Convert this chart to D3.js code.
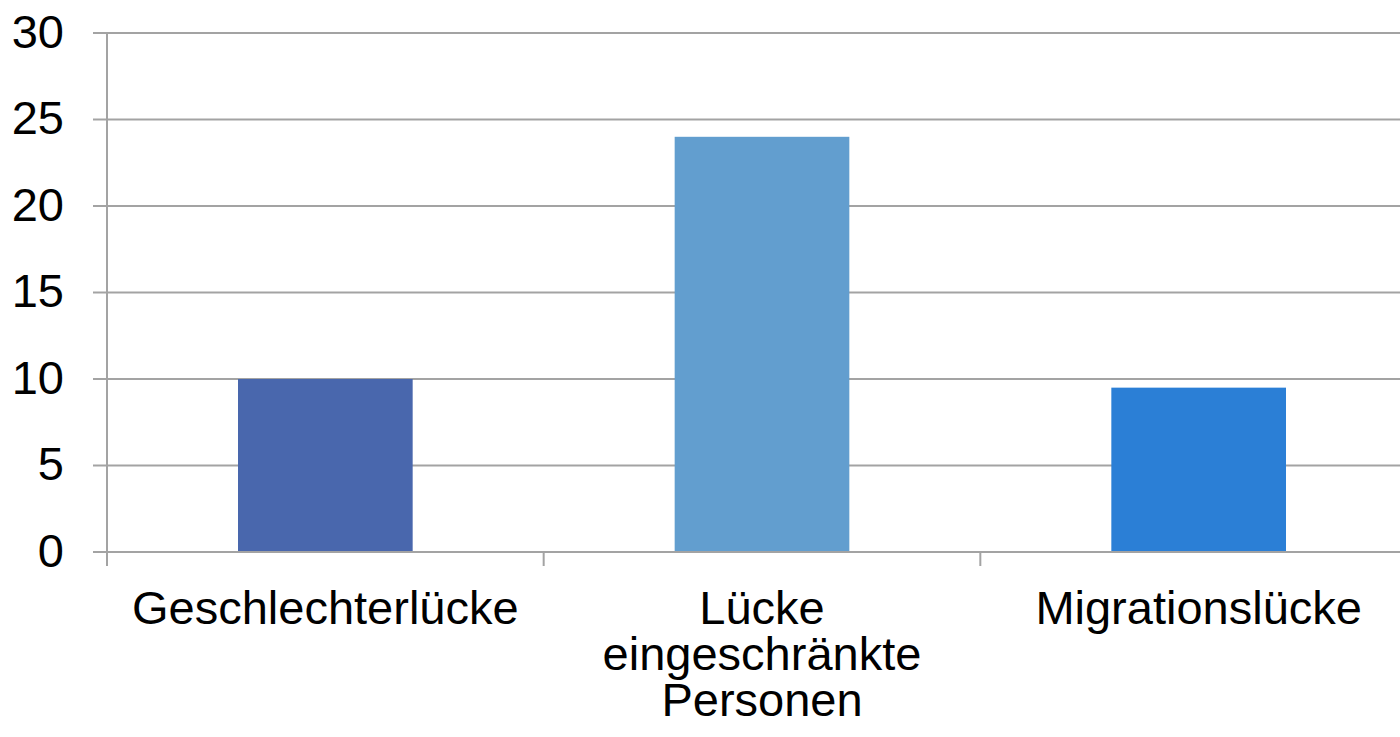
<!DOCTYPE html>
<html>
<head>
<meta charset="utf-8">
<script src="https://cdn.jsdelivr.net/npm/d3@7"></script>
<style>
  html, body { margin: 0; padding: 0; background: #fff; overflow: hidden; }
  svg { display: block; font-family: "Liberation Sans", Arial, sans-serif; }
</style>
</head>
<body>
<svg id="chart" width="1400" height="737"></svg>
<script>
const categories = ["Geschlechterlücke", "Lücke eingeschränkte Personen", "Migrationslücke"];
const categoryLines = [["Geschlechterlücke"], ["Lücke", "eingeschränkte", "Personen"], ["Migrationslücke"]];
const values = [10, 24, 9.5];
const barColors = ["#4967ad", "#629ecf", "#2b7fd6"];
const yTicks = [0, 5, 10, 15, 20, 25, 30];

const svg = d3.select("#chart");
const plotLeft = 107, plotRight = 1417, plotTop = 33, plotBottom = 552;
const gridColor = "#a3a3a3";

const x = d3.scaleBand().domain(categories).range([plotLeft, plotRight]).paddingInner(0.6).paddingOuter(0.3);
const xb = d3.scaleBand().domain(categories).range([plotLeft, plotRight]).padding(0);
const y = d3.scaleLinear().domain([0, 30]).range([plotBottom, plotTop]);

// gridlines
svg.append("g").selectAll("line").data(yTicks.filter(d => d > 0)).join("line")
  .attr("x1", plotLeft - 14).attr("x2", 1400)
  .attr("y1", d => y(d)).attr("y2", d => y(d))
  .attr("stroke", gridColor).attr("stroke-width", 2);

// bars
svg.append("g").selectAll("rect").data(values).join("rect")
  .attr("x", (d, i) => x(categories[i]))
  .attr("width", x.bandwidth())
  .attr("y", d => y(d))
  .attr("height", d => y(0) - y(d))
  .attr("fill", (d, i) => barColors[i]);

// x axis line
svg.append("line").attr("x1", plotLeft - 14).attr("x2", 1400)
  .attr("y1", y(0)).attr("y2", y(0))
  .attr("stroke", gridColor).attr("stroke-width", 2);

// y axis line
svg.append("line").attr("x1", plotLeft).attr("x2", plotLeft)
  .attr("y1", plotTop).attr("y2", plotBottom + 14)
  .attr("stroke", gridColor).attr("stroke-width", 2);

// x ticks at band boundaries
svg.append("g").selectAll("line").data(categories.slice(1)).join("line")
  .attr("x1", d => xb(d)).attr("x2", d => xb(d))
  .attr("y1", plotBottom).attr("y2", plotBottom + 14)
  .attr("stroke", gridColor).attr("stroke-width", 2);

// y tick labels
svg.append("g").selectAll("text").data(yTicks).join("text")
  .attr("x", 64).attr("y", d => y(d) - 2)
  .attr("text-anchor", "end").attr("dominant-baseline", "central")
  .attr("font-size", 47).attr("fill", "#000")
  .text(d => d);

// category labels
const labels = svg.append("g").selectAll("text").data(categories).join("text")
  .attr("text-anchor", "middle").attr("font-size", 47).attr("fill", "#000")
  .attr("x", d => xb(d) + xb.bandwidth() / 2)
  .attr("y", 624);
labels.each(function(d, i) {
  d3.select(this).selectAll("tspan").data(categoryLines[i]).join("tspan")
    .attr("x", xb(d) + xb.bandwidth() / 2)
    .attr("dy", (t, j) => j === 0 ? 0 : 46)
    .text(t => t);
});
</script>
</body>
</html>
